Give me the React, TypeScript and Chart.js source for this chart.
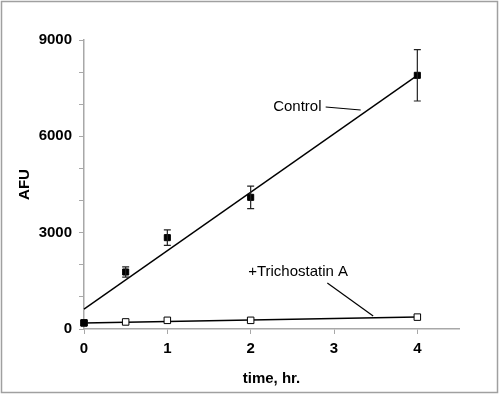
import { useEffect, useRef } from 'react';
import { Chart, registerables } from 'chart.js';

Chart.register(...registerables);

// ---- data ----
const times = [0, 0.5, 1, 2, 4];
const controlMean = [190, 1775, 2845, 4100, 7900];
const controlErr = [0, 160, 240, 350, 800];
const tsaMean = [190, 220, 270, 270, 370];
const fitX = [0, 4];
const controlFit = [620, 7900];
const tsaFit = [185, 375];
const xTicks = [0, 1, 2, 3, 4];
const yLabelStep = 3000;

// annotation text + leader lines (data coordinates)
const controlLabel = { text: 'Control', x: 2.27, y: 6913 };
const controlLeader = [{ x: 2.9, y: 6913 }, { x: 3.32, y: 6820 }];
const tsaLabel = { text: '+Trichostatin A', x: 1.97, y: 1775 };
const tsaLeader = [{ x: 2.92, y: 1432 }, { x: 3.47, y: 405 }];

const AXIS_GRAY = '#a8a8a8';
const FONT = 'Arial, "Liberation Sans", sans-serif';

export default function App() {
  const ref = useRef<HTMLCanvasElement>(null);

  useEffect(() => {
    document.body.style.margin = '0';
    const canvas = ref.current!;

    const errorBars = {
      id: 'errorBars',
      afterDatasetsDraw(chart: any) {
        const { ctx, scales } = chart;
        const xs = scales.x, ys = scales.y;
        ctx.save();
        ctx.strokeStyle = '#222';
        ctx.lineWidth = 1.2;
        times.forEach((t, i) => {
          const e = controlErr[i];
          if (!e) return;
          const px = xs.getPixelForValue(t);
          const top = ys.getPixelForValue(controlMean[i] + e);
          const bot = ys.getPixelForValue(controlMean[i] - e);
          ctx.beginPath();
          ctx.moveTo(px, top);
          ctx.lineTo(px, bot);
          ctx.moveTo(px - 3.5, top);
          ctx.lineTo(px + 3.5, top);
          ctx.moveTo(px - 3.5, bot);
          ctx.lineTo(px + 3.5, bot);
          ctx.stroke();
        });
        ctx.restore();
      },
    };

    const annotations = {
      id: 'annotations',
      afterDraw(chart: any) {
        const { ctx, scales } = chart;
        const xs = scales.x, ys = scales.y;
        ctx.save();
        ctx.fillStyle = '#000';
        ctx.font = `15px ${FONT}`;
        ctx.textAlign = 'left';
        ctx.textBaseline = 'middle';
        [controlLabel, tsaLabel].forEach((l) => {
          ctx.fillText(l.text, xs.getPixelForValue(l.x), ys.getPixelForValue(l.y));
        });
        ctx.strokeStyle = '#000';
        ctx.lineWidth = 1.2;
        [controlLeader, tsaLeader].forEach((seg) => {
          ctx.beginPath();
          ctx.moveTo(xs.getPixelForValue(seg[0].x), ys.getPixelForValue(seg[0].y));
          ctx.lineTo(xs.getPixelForValue(seg[1].x), ys.getPixelForValue(seg[1].y));
          ctx.stroke();
        });
        // frame
        ctx.strokeStyle = '#a0a0a0';
        ctx.lineWidth = 1.5;
        ctx.strokeRect(1.5, 1.5, 496, 391);
        ctx.restore();
      },
    };

    const chart = new Chart(canvas, {
      type: 'scatter',
      data: {
        datasets: [
          {
            label: 'Control fit',
            type: 'line',
            data: fitX.map((x, i) => ({ x, y: controlFit[i] })),
            borderColor: '#000',
            borderWidth: 1.4,
            pointRadius: 0,
            fill: false,
            clip: false,
            order: 3,
          } as any,
          {
            label: 'TSA fit',
            type: 'line',
            data: fitX.map((x, i) => ({ x, y: tsaFit[i] })),
            borderColor: '#000',
            borderWidth: 1.4,
            pointRadius: 0,
            fill: false,
            clip: false,
            order: 2,
          },
          {
            label: '+Trichostatin A',
            data: times.map((x, i) => ({ x, y: tsaMean[i] })),
            pointStyle: 'rect',
            pointRadius: 4.6,
            backgroundColor: '#fff',
            borderColor: '#000',
            borderWidth: 1,
            clip: false,
            order: 1,
          },
          {
            label: 'Control',
            data: times.map((x, i) => ({ x, y: controlMean[i] })),
            pointStyle: 'rect',
            pointRadius: 4.3,
            backgroundColor: '#000',
            borderColor: '#000',
            borderWidth: 1,
            clip: false,
            order: 0,
          },
        ],
      },
      options: {
        responsive: false,
        animation: false,
        layout: { padding: { left: 0, top: 40, right: 41, bottom: 0 } },
        plugins: { legend: { display: false }, tooltip: { enabled: false } },
        scales: {
          x: {
            type: 'linear',
            min: 0,
            max: 4.5,
            afterBuildTicks: (axis: any) => {
              axis.ticks = xTicks.map((v) => ({ value: v }));
            },
            afterFit: (axis: any) => {
              axis.height = 66;
            },
            grid: { drawOnChartArea: false, drawTicks: true, tickLength: 5, color: AXIS_GRAY, lineWidth: 1 },
            border: { color: AXIS_GRAY, width: 1.5 },
            ticks: {
              color: '#000',
              font: { family: FONT, size: 15, weight: 'bold' },
              padding: 6,
              callback: (v: any) => String(v),
            },
            title: {
              display: true,
              text: 'time, hr.',
              color: '#000',
              font: { family: FONT, size: 15, weight: 'bold' },
              padding: { top: 0, bottom: 7 },
            },
          },
          y: {
            type: 'linear',
            min: 0,
            max: 9000,
            afterFit: (axis: any) => {
              axis.width = 84;
            },
            grid: { drawOnChartArea: false, drawTicks: true, tickLength: 5, color: AXIS_GRAY, lineWidth: 1 },
            border: { color: AXIS_GRAY, width: 1.5 },
            ticks: {
              stepSize: 1000,
              autoSkip: false,
              color: '#000',
              font: { family: FONT, size: 15, weight: 'bold' },
              padding: 7,
              callback: (v: any) => (Number(v) % yLabelStep === 0 ? String(v) : ''),
            },
            title: {
              display: true,
              text: 'AFU',
              color: '#000',
              font: { family: FONT, size: 15, weight: 'bold' },
              padding: { top: 16, bottom: 0 },
            },
          },
        },
      },
      plugins: [errorBars, annotations],
    });

    return () => chart.destroy();
  }, []);

  return (
    <div style={{ width: 500, height: 395, background: '#fff' }}>
      <canvas ref={ref} width={500} height={395} style={{ display: 'block' }} />
    </div>
  );
}
